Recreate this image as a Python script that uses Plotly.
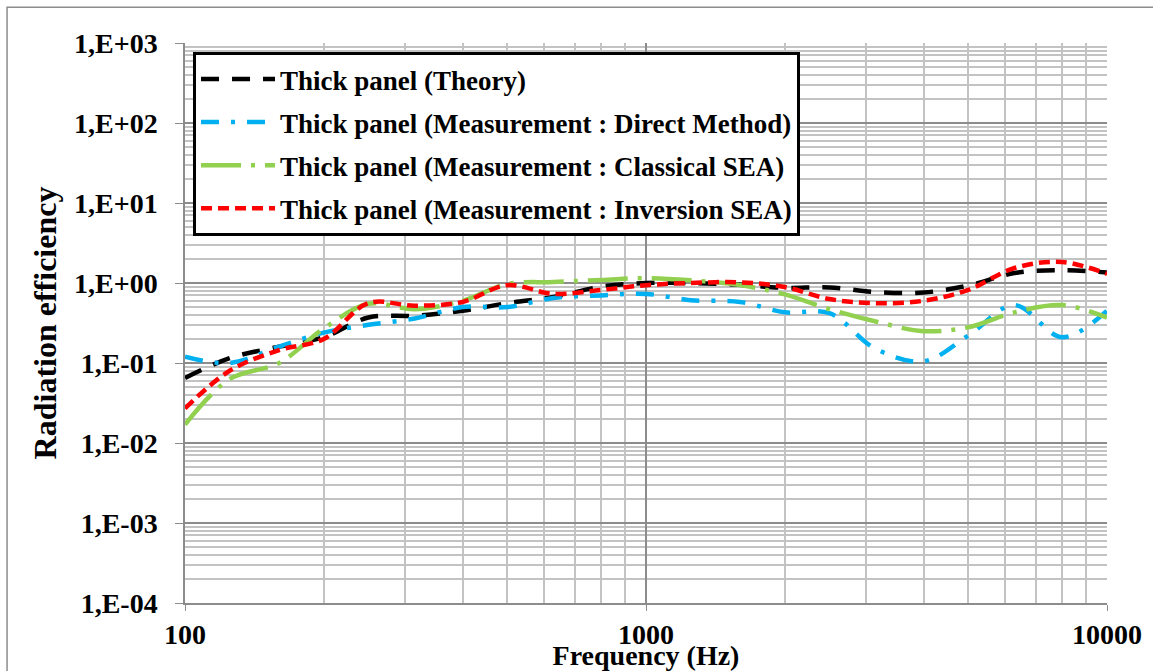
import plotly.graph_objects as go

# One-third octave band centre frequencies (Hz)
freq = [100, 125, 160, 200, 250, 315, 400, 500, 630, 800, 1000,
        1250, 1600, 2000, 2500, 3150, 4000, 5000, 6300, 8000, 10000]

# Radiation efficiency of the thick panel
theory = [0.065, 0.115, 0.16, 0.21, 0.37, 0.39, 0.45, 0.56, 0.67, 0.9, 1.0,
          1.0, 0.95, 0.87, 0.88, 0.77, 0.76, 0.93, 1.33, 1.45, 1.35]
direct = [0.12, 0.10, 0.16, 0.24, 0.30, 0.36, 0.50, 0.50, 0.65, 0.70, 0.73,
          0.61, 0.58, 0.43, 0.42, 0.15, 0.105, 0.22, 0.53, 0.21, 0.45]
classical = [0.017, 0.063, 0.10, 0.27, 0.55, 0.47, 0.60, 0.97, 1.03, 1.09, 1.15,
             1.08, 0.94, 0.72, 0.47, 0.33, 0.25, 0.28, 0.43, 0.53, 0.37]
inversion = [0.027, 0.08, 0.145, 0.20, 0.56, 0.52, 0.58, 0.94, 0.73, 0.82, 0.94,
             1.0, 1.02, 0.89, 0.63, 0.56, 0.60, 0.82, 1.54, 1.83, 1.30]

series_names = [
    "Thick panel (Theory)",
    "Thick panel (Measurement : Direct Method)",
    "Thick panel (Measurement : Classical SEA)",
    "Thick panel (Measurement : Inversion SEA)",
]
series_values = [theory, direct, classical, inversion]
series_colors = ["#000000", "#00B0F0", "#92D050", "#FF0000"]
series_dash = ["18px,13px", "18px,12px,4px,12px", "40px,10px,4px,10px", "11px,6px"]

# Axis ticks
x_tickvals = [100, 1000, 10000]
x_ticktext = ["100", "1000", "10000"]
y_tickvals = [1e-4, 1e-3, 1e-2, 1e-1, 1e0, 1e1, 1e2, 1e3]
y_ticktext = ["1,E-04", "1,E-03", "1,E-02", "1,E-01", "1,E+00", "1,E+01", "1,E+02", "1,E+03"]

x_minor = [m * 10 ** d for d in (2, 3) for m in range(2, 10)]
y_minor = [m * 10 ** d for d in range(-4, 3) for m in range(2, 10)]

FONT = "Liberation Serif"

fig = go.Figure()
for i, (name, vals, col, dash) in enumerate(zip(series_names, series_values, series_colors, series_dash)):
    fig.add_trace(go.Scatter(
        x=freq, y=vals, name=name, mode="lines",
        line=dict(color=col, width=4.5, dash=dash, shape="spline", smoothing=1.0),
        legendgroup=f"g{i}",
    ))

grid_major = "#8c8c8c"
grid_minor = "#c3c3c3"

fig.update_xaxes(
    type="log", range=[2, 4],
    tickmode="array", tickvals=x_tickvals, ticktext=x_ticktext,
    showgrid=True, gridcolor=grid_major, gridwidth=1.5,
    minor=dict(tickmode="array", tickvals=x_minor, showgrid=True,
               gridcolor=grid_minor, gridwidth=1.5, ticks=""),
    showline=True, linecolor=grid_major, linewidth=1.5,
    ticks="outside", ticklen=6, tickcolor=grid_major,
    tickfont=dict(family=FONT, size=28, color="black", weight="bold"),
    title=dict(text="Frequency (Hz)", standoff=0,
               font=dict(family=FONT, size=28, color="black", weight="bold")),
    zeroline=False,
)
fig.update_yaxes(
    type="log", range=[-4, 3],
    tickmode="array", tickvals=y_tickvals, ticktext=y_ticktext,
    showgrid=True, gridcolor=grid_major, gridwidth=1.5,
    minor=dict(tickmode="array", tickvals=y_minor, showgrid=True,
               gridcolor=grid_minor, gridwidth=1.5, ticks=""),
    showline=True, linecolor=grid_major, linewidth=1.5,
    ticks="outside", ticklen=8, tickcolor=grid_major,
    ticklabelstandoff=12,
    tickfont=dict(family=FONT, size=28, color="black", weight="bold"),
    title=dict(text="Radiation efficiency", standoff=8,
               font=dict(family=FONT, size=32, color="black", weight="bold")),
    zeroline=False,
)

# Chart frame
fig.add_shape(type="rect", xref="paper", yref="paper",
              x0=-0.193, x1=1.2, y0=-0.3, y1=1.064,
              line=dict(color="#8c8c8c", width=1.5), layer="below")

fig.update_layout(
    width=1153, height=671,
    margin=dict(l=185, r=46, t=43, b=68, autoexpand=False),
    paper_bgcolor="white", plot_bgcolor="white",
    showlegend=True,
    legend=dict(
        x=0.0087, y=0.984, xanchor="left", yanchor="top",
        bgcolor="white", bordercolor="black", borderwidth=3,
        font=dict(family=FONT, size=27, color="black", weight="bold"),
        traceorder="grouped", tracegroupgap=5,
        itemwidth=74,
    ),
)

fig.write_html("out.html")
